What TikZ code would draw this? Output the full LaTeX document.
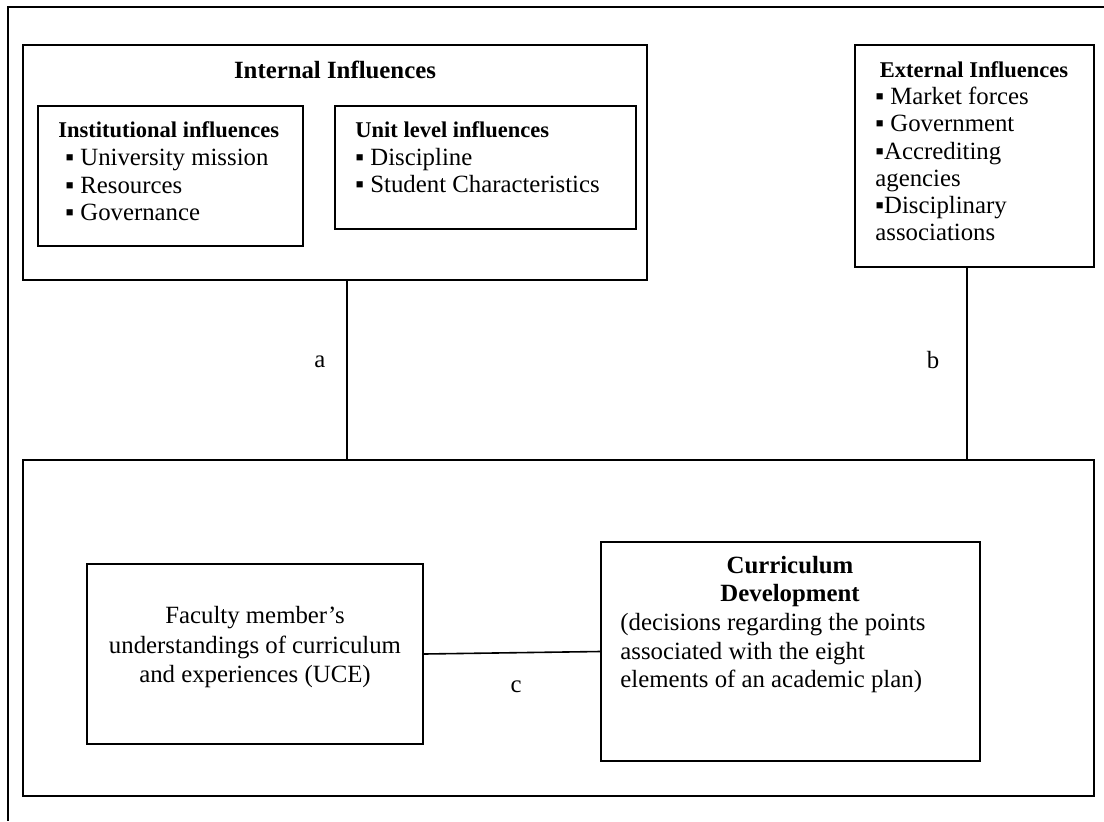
\documentclass[tikz,border=0pt]{standalone}
\usepackage{fontspec}
\setmainfont{Liberation Serif}
\newcommand\fszA{\fontsize{12.4}{13.8}\selectfont}
\newcommand\fszS{\fontsize{11.25}{13.8}\selectfont\bfseries}
\begin{document}
\begin{tikzpicture}[x=0.5pt,y=-0.5pt,
  box/.style={draw, line width=0.8pt, inner sep=0pt},
  txt/.style={inner sep=0pt, font=\fszA, align=left},
  conn/.style={line width=0.8pt},
  lbl/.style={inner sep=0pt, font=\fszA}]
\fill[white] (0,0) rectangle (1104,821);
\useasboundingbox (0,0) rectangle (1104,821);
% outer frame (top and left only)
\draw[line width=0.8pt] (1104,7) -- (8,7) -- (8,821);

% boxes
\node[box, minimum width=312pt, minimum height=117.5pt] (internal) at (335,162.5) {};
\node[box, minimum width=132.5pt, minimum height=70pt] (inst) at (170.5,176) {};
\node[box, minimum width=150.5pt, minimum height=61.5pt] (unit) at (485.5,167.5) {};
\node[box, minimum width=119.5pt, minimum height=111pt] (external) at (974.5,156) {};
\node[box, minimum width=535.5pt, minimum height=168pt] (bottom) at (558.5,628) {};
\node[box, minimum width=168pt, minimum height=90pt] (faculty) at (255,654) {};
\node[box, minimum width=189.5pt, minimum height=109.5pt] (curric) at (790.5,651.5) {};

% texts
\node[txt] (intT) at (335,70) {\textbf{Internal Influences}};
\node[txt, anchor=west] (instT) at (58,171.5)
  {{\fszS Institutional influences}\\
   \hspace*{3.5pt}▪ University mission\\
   \hspace*{3.5pt}▪ Resources\\
   \hspace*{3.5pt}▪ Governance};
\node[txt, anchor=west] (unitT) at (355,157.5)
  {{\fszS Unit level influences}\\
   ▪ Discipline\\
   ▪ Student Characteristics};
\node[txt] (extT) at (974,70) {{\fszS External Influences}};
\node[txt, anchor=west, font=\fontsize{12.4}{13.6}\selectfont] (extL) at (875,164)
  {▪ Market forces\\▪ Government\\▪Accrediting\\agencies\\▪Disciplinary\\associations};
\node[txt, align=center, font=\fontsize{12.4}{14.75}\selectfont] (facT) at (255,647.5)
  {Faculty member’s\\understandings of curriculum\\and experiences (UCE)};
\node[txt, align=center, font=\fontsize{12.4}{14}\selectfont] (curT) at (790,582)
  {\textbf{Curriculum}\\\textbf{Development}};
\node[txt, anchor=west, font=\fontsize{12.4}{14.25}\selectfont] (curB) at (620,653.5)
  {(decisions regarding the points\\associated with the eight\\elements of an academic plan)};

% connectors
\coordinate (ax) at (347,0);
\coordinate (bx) at (967,0);
\draw[conn] (internal.south -| ax) -- (bottom.north -| ax);
\draw[conn] (external.south -| bx) -- (bottom.north -| bx);
\draw[conn] (faculty.east) -- (curric.west);

% labels
\node[lbl] (la) at (320,362) {a};
\node[lbl] (lb) at (933,360) {b};
\node[lbl] (lc) at (516,687) {c};
\end{tikzpicture}
\end{document}
